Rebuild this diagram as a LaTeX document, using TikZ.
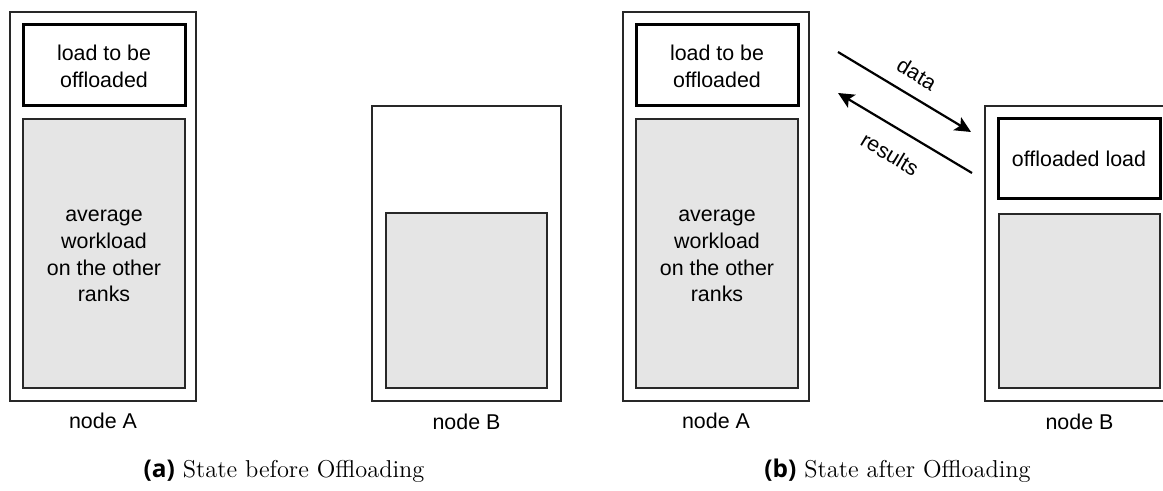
\documentclass[tikz,border=0pt]{standalone}
\usepackage{fontspec}
\newfontfamily\boxfont{Liberation Sans}
\newfontfamily\capfont{Open Sans}
\usetikzlibrary{arrows.meta, positioning}
\definecolor{loadgrey}{RGB}{229, 229, 229}
\definecolor{frameline}{RGB}{40, 40, 40}

\tikzset{
  nodeframe/.style={draw=frameline, line width=0.6pt},
  offbox/.style={draw=black, line width=1.5pt},
  avgbox/.style={fill=loadgrey, draw=frameline, line width=0.7pt},
  boxtext/.style={font=\boxfont\fontsize{10.7}{13.4}\selectfont, align=center},
  flowlabel/.style={boxtext, rotate=-31, inner sep=0.5pt},
  flow/.style={-{Stealth[length=8pt, width=7.5pt, inset=1.8pt]}, line width=1.1pt},
  captext/.style={font=\fontsize{12.2}{14}\selectfont, anchor=base},
}

\begin{document}
\begin{tikzpicture}[x=0.5pt, y=-0.5pt]
\useasboundingbox (0,0) rectangle (1163,491);
\clip (0,0) rectangle (1163,491);

% ============================================================
% (a) before offloading
% ============================================================
\begin{scope}
  % node A
  \draw[nodeframe] (10,12) rectangle (196,401);
  \draw[offbox] (23,25) rectangle (185,106);
  \node[boxtext] (offA) at (104,66) {load to be\\offloaded};
  \draw[avgbox] (23,119) rectangle (185,388);
  \node[boxtext] (avgA) at (104,256) {average\\workload\\on the other\\ranks};
  \node[boxtext] (lblA) at (103,421) {node A};

  % node B
  \draw[nodeframe] (372,106) rectangle (561,401);
  \draw[avgbox] (386,213) rectangle (547,388);
  \node[boxtext] (lblB) at (466.5,422) {node B};

  % caption
  \node[captext] (capA) at (284,478) {{\capfont\bfseries (a)} State before Offloading};
\end{scope}

% ============================================================
% (b) after offloading
% ============================================================
\begin{scope}[shift={(613,0)}]
  % node A
  \draw[nodeframe] (10,12) rectangle (196,401);
  \draw[offbox] (23,25) rectangle (185,106);
  \node[boxtext] (offA2) at (104,66) {load to be\\offloaded};
  \draw[avgbox] (23,119) rectangle (185,388);
  \node[boxtext] (avgA2) at (104,256) {average\\workload\\on the other\\ranks};
  \node[boxtext] (lblA2) at (103,421) {node A};

  % node B (runs past the right edge)
  \draw[nodeframe] (372,106) rectangle (561,401);
  \draw[offbox] (385,119) rectangle (547,199);
  \node[boxtext] (offB2) at (466,159) {offloaded load};
  \draw[avgbox] (386,214) rectangle (547,388);
  \node[boxtext] (lblB2) at (466.5,422) {node B};

  % transfer
  \coordinate (dataS) at (225,52);
  \coordinate (dataE) at (358,132);
  \coordinate (resS) at (359,173);
  \coordinate (resE) at (225,93);
  \draw[flow] (dataS) -- (dataE);
  \draw[flow] (resS) -- (resE);
  \node[flowlabel] (lblData) at (304,74) {data};
  \node[flowlabel] (lblRes) at (277,154) {results};

  % caption
  \node[captext] (capB) at (284.5,478) {{\capfont\bfseries (b)} State after Offloading};
\end{scope}

\end{tikzpicture}
\end{document}
